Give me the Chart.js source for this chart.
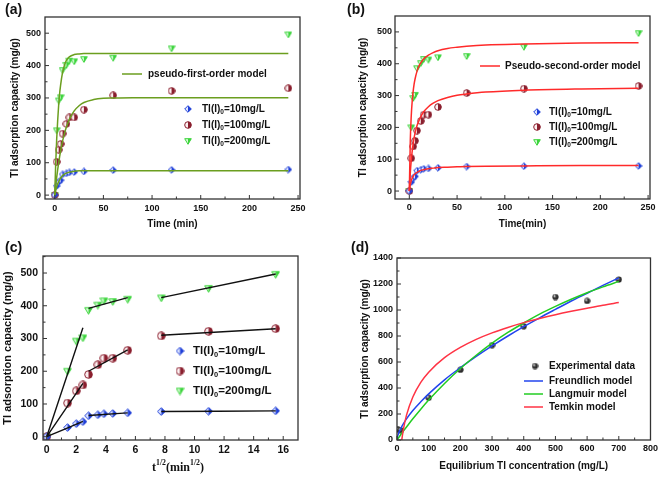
<!DOCTYPE html>
<html>
<head>
<meta charset="utf-8">
<script src="https://cdn.jsdelivr.net/npm/chart.js@4.4.0/dist/chart.umd.min.js"></script>
<style>
    body { margin: 0; background: #fff; width: 661px; height: 477px; position: relative; overflow: hidden; }
    canvas { position: absolute; }
</style>
</head>
<body>
<canvas id="chartA" width="330" height="238" style="left:0;top:0"></canvas>
<canvas id="chartB" width="331" height="238" style="left:330px;top:0"></canvas>
<canvas id="chartC" width="330" height="239" style="left:0;top:238px"></canvas>
<canvas id="chartD" width="331" height="239" style="left:330px;top:238px"></canvas>
<script>
// Kinetic data (sampling times and uptake for the three initial concentrations)
const timeMin = [0, 2, 4, 6, 8, 12, 15, 20, 30, 60, 120, 240];
const sqrtTime = [0, 1.41, 2, 2.45, 2.83, 3.46, 3.87, 4.47, 5.48, 7.75, 10.95, 15.49];
const q10 = [0, 28, 40, 46, 64, 67, 70, 71, 73, 77, 78, 79];
const q100 = [0, 103, 140, 158, 190, 220, 240, 240, 264, 308, 322, 330];
const q200 = [0, 200, 292, 302, 386, 402, 415, 413, 420, 424, 453, 496];

// Model curves (a) and (b)
const modelTime = [0, 1, 2, 3, 4, 5, 6, 8, 10, 12, 15, 20, 25, 30, 40, 50, 60, 80, 120, 180, 240];
const pfo10 = [0, 14, 25, 34, 41, 47, 52, 60, 65, 68, 71, 74, 75, 75, 75, 75, 75, 75, 75, 75, 75];
const pfo100 = [0, 29, 55, 78, 99, 118, 136, 166, 190, 210, 234, 260, 276, 286, 295, 299, 300, 301, 301, 301, 301];
const pfo200 = [0, 97, 172, 229, 276, 313, 339, 378, 401, 416, 427, 434, 436, 437, 437, 437, 437, 437, 437, 437, 437];
const pso10 = [0, 20, 32, 40, 46, 51, 54, 59, 62, 65, 67, 70, 72, 74, 75, 76, 77, 78, 79, 80, 80];
const pso100 = [0, 56, 96, 125, 148, 167, 182, 205, 221, 234, 249, 265, 276, 284, 294, 301, 305, 311, 317, 321, 323];
const pso200 = [0, 157, 235, 282, 313, 336, 352, 376, 392, 403, 415, 427, 435, 441, 448, 452, 455, 459, 462, 465, 466];

// Intraparticle diffusion fit segments, panel (c)
const segX = [[0, 2.45], [2.83, 5.48], [7.75, 15.49]];
const seg10Y = [[0, 47], [65, 73], [77, 79]];
const seg100Y = [[0, 163], [200, 265], [310, 330]];
const seg200Y = [[0, 333], [392, 425], [425, 497]];

// Isotherm, panel (d)
const ceExp = [3, 12, 100, 200, 300, 400, 500, 600, 700];
const qeExp = [80, 75, 325, 540, 730, 875, 1100, 1070, 1235];
const ceModel = [0, 2, 5, 10, 15, 20, 30, 50, 75, 100, 150, 200, 250, 300, 350, 400, 450, 500, 550, 600, 650, 700];
const freundlich = [0, 28, 51, 79, 103, 124, 163, 227, 294, 355, 463, 556, 643, 724, 800, 872, 940, 1005, 1069, 1129, 1189, 1247];
const langmuir = [0, 7, 17, 35, 52, 68, 100, 163, 237, 307, 435, 550, 652, 745, 827, 900, 968, 1028, 1083, 1133, 1178, 1220];
const ceTemkin = [15, 20, 30, 50, 75, 100, 150, 200, 250, 300, 350, 400, 450, 500, 550, 600, 650, 700];
const temkin = [0, 79, 191, 331, 443, 522, 633, 712, 774, 824, 866, 903, 935, 964, 990, 1014, 1037, 1057];

// Tick labels
const timeTicks = [0, 50, 100, 150, 200, 250];
const qTicks = [0, 100, 200, 300, 400, 500];
const sqrtTicks = [0, 2, 4, 6, 8, 10, 12, 14, 16];
const ceTicks = [0, 100, 200, 300, 400, 500, 600, 700, 800];
const qeTicks = [0, 200, 400, 600, 800, 1000, 1200, 1400];

const BLUE = '#1f3fd8', DARKRED = '#8a1f2e', GREEN = '#3cd43c';
const OLIVE = '#6b9e1f', RED = '#ff2a2a';
const SANS = 'Liberation Sans, Arial, sans-serif';

function pts(xs, ys) {
    return xs.map((x, i) => ({ x: x, y: ys[i] }));
}

// Half-filled markers like the original figure
function makeMarker(kind, size, color, light) {
    const c = document.createElement('canvas');
    c.width = size; c.height = size;
    const g = c.getContext('2d');
    const m = size / 2, r = size / 2 - 0.7;
    const shape = () => {
        g.beginPath();
        if (kind === 'diamond') {
            g.moveTo(m, m - r); g.lineTo(m + r, m); g.lineTo(m, m + r); g.lineTo(m - r, m); g.closePath();
        } else if (kind === 'circle') {
            g.arc(m, m, r, 0, Math.PI * 2);
        } else {
            g.moveTo(m - r, m - r * 0.7); g.lineTo(m + r, m - r * 0.7); g.lineTo(m, m + r); g.closePath();
        }
    };
    shape();
    g.fillStyle = light; g.fill();
    g.save();
    g.beginPath(); g.rect(m, 0, m, size); g.clip();
    shape(); g.fillStyle = color; g.fill();
    g.restore();
    shape(); g.strokeStyle = color; g.lineWidth = 1; g.stroke();
    return c;
}

function makeSphere(size) {
    const c = document.createElement('canvas');
    c.width = size; c.height = size;
    const g = c.getContext('2d');
    const m = size / 2;
    const grad = g.createRadialGradient(m - 1.2, m - 1.2, 0.3, m, m, m);
    grad.addColorStop(0, '#f0f0f0');
    grad.addColorStop(0.35, '#444');
    grad.addColorStop(1, '#111');
    g.beginPath(); g.arc(m, m, m - 0.4, 0, Math.PI * 2);
    g.fillStyle = grad; g.fill();
    return c;
}

const mk = {
    a10: makeMarker('diamond', 8, BLUE, '#dfe6ff'),
    a100: makeMarker('circle', 8, DARKRED, '#fbeff0'),
    a200: makeMarker('triangle', 8, GREEN, '#d8fbd8'),
    c10: makeMarker('diamond', 9, BLUE, '#dfe6ff'),
    c100: makeMarker('circle', 9, DARKRED, '#fbeff0'),
    c200: makeMarker('triangle', 9, GREEN, '#d8fbd8'),
    sphere: makeSphere(7)
};

// Draw text with subscripts / superscripts
function partsWidth(ctx, parts, size, family) {
    let w = 0;
    parts.forEach(p => {
        ctx.font = 'bold ' + (p.sub || p.sup ? size * 0.65 : size) + 'px ' + family;
        w += ctx.measureText(p.t).width;
    });
    return w;
}
function drawParts(ctx, parts, x, y, size, family) {
    ctx.textBaseline = 'middle';
    ctx.textAlign = 'left';
    ctx.fillStyle = '#111';
    parts.forEach(p => {
        const s = p.sub || p.sup ? size * 0.65 : size;
        ctx.font = 'bold ' + s + 'px ' + family;
        const dy = p.sub ? size * 0.35 : (p.sup ? -size * 0.38 : 0);
        ctx.fillText(p.t, x, y + dy);
        x += ctx.measureText(p.t).width;
    });
}

function tlParts(conc) {
    return [{ t: 'Tl(I)' }, { t: '0', sub: true }, { t: '=' + conc + 'mg/L' }];
}

// Frame, inward ticks, legend and panel label
const decorPlugin = {
    id: 'decor',
    afterDatasetsDraw(chart, args, opts) {
        const ctx = chart.ctx, a = chart.chartArea;
        ctx.save();
        ctx.strokeStyle = '#333';
        ctx.lineWidth = 1.3;
        ctx.strokeRect(a.left, a.top, a.right - a.left, a.bottom - a.top);
        ctx.lineWidth = 1;
        const xs = chart.scales.x, ys = chart.scales.y;
        const xv = xs.ticks.map(t => t.value), yv = ys.ticks.map(t => t.value);
        const minorOf = (v, s) => {
            const out = [];
            const step = v.length > 1 ? v[1] - v[0] : 0;
            v.forEach(val => {
                const mid = val + step / 2;
                if (mid > s.min && mid < s.max) out.push(mid);
            });
            return out;
        };
        ctx.beginPath();
        xv.forEach(v => { const p = xs.getPixelForValue(v); ctx.moveTo(p, a.bottom); ctx.lineTo(p, a.bottom - 4); });
        minorOf(xv, xs).forEach(v => { const p = xs.getPixelForValue(v); ctx.moveTo(p, a.bottom); ctx.lineTo(p, a.bottom - 2.5); });
        yv.forEach(v => { const p = ys.getPixelForValue(v); ctx.moveTo(a.left, p); ctx.lineTo(a.left + 4, p); });
        minorOf(yv, ys).forEach(v => { const p = ys.getPixelForValue(v); ctx.moveTo(a.left, p); ctx.lineTo(a.left + 2.5, p); });
        ctx.stroke();

        (opts.items || []).forEach(it => {
            if (it.line) {
                ctx.strokeStyle = it.line; ctx.lineWidth = 1.5;
                ctx.beginPath(); ctx.moveTo(it.x1, it.y); ctx.lineTo(it.x2, it.y); ctx.stroke();
            }
            if (it.img) ctx.drawImage(it.img, it.mx - it.img.width / 2, it.y - it.img.height / 2);
            drawParts(ctx, it.parts, it.tx, it.y, opts.fontSize || 10, SANS);
        });
        if (opts.panel) {
            ctx.font = 'bold 14px ' + SANS;
            ctx.fillStyle = '#111'; ctx.textBaseline = 'middle'; ctx.textAlign = 'left';
            ctx.fillText(opts.panel.text, opts.panel.x, opts.panel.y);
        }
        if (opts.xTitle) {
            const t = opts.xTitle;
            const w = partsWidth(ctx, t.parts, t.size, t.family);
            drawParts(ctx, t.parts, t.x - w / 2, t.y, t.size, t.family);
        }
        ctx.restore();
    }
};

function axis(min, max, ticks, fit, tickPad, fontSize, title, titlePad, isX) {
    return {
        type: 'linear',
        min: min,
        max: max,
        afterBuildTicks: s => { s.ticks = ticks.map(v => ({ value: v })); },
        afterFit: s => { if (isX) s.height = fit; else s.width = fit; },
        grid: { display: false, drawTicks: false },
        border: { display: false },
        ticks: {
            padding: tickPad,
            color: '#111',
            callback: v => String(v),
            font: { family: SANS, size: fontSize, weight: 'bold' }
        },
        title: {
            display: !!title,
            text: title || '',
            color: '#111',
            font: { family: SANS, size: 10, weight: 'bold' },
            padding: isX ? { top: 0, bottom: titlePad } : { top: titlePad, bottom: 0 }
        }
    };
}

function scatterSet(data, img) {
    return { type: 'scatter', data: data, pointStyle: img, pointRadius: 4, showLine: false };
}
function lineSet(data, color, width) {
    return {
        type: 'line', data: data, borderColor: color, borderWidth: width || 1.5,
        pointRadius: 0, fill: false, cubicInterpolationMode: 'monotone'
    };
}

function baseOptions(padding, scales, decor) {
    return {
        responsive: false,
        animation: false,
        events: [],
        layout: { padding: padding },
        scales: scales,
        plugins: { legend: { display: false }, tooltip: { enabled: false }, decor: decor }
    };
}

const yTitle = 'Tl adsorption capacity (mg/g)';

// Panel (a): pseudo-first-order
new Chart(document.getElementById('chartA'), {
    type: 'scatter',
    data: {
        datasets: [
            lineSet(pts(modelTime, pfo10), OLIVE),
            lineSet(pts(modelTime, pfo100), OLIVE),
            lineSet(pts(modelTime, pfo200), OLIVE),
            scatterSet(pts(timeMin, q10), mk.a10),
            scatterSet(pts(timeMin, q100), mk.a100),
            scatterSet(pts(timeMin, q200), mk.a200)
        ]
    },
    options: baseOptions({ top: 17, right: 30, left: 0, bottom: 0 }, {
        x: axis(-10, 252, timeTicks, 39, 4, 9, 'Time (min)', 8, true),
        y: axis(-12, 550, qTicks, 45, 4, 9, yTitle, 9, false)
    }, {
        panel: { text: '(a)', x: 5, y: 10 },
        items: [
            { line: OLIVE, x1: 122, x2: 142, y: 74, tx: 148, parts: [{ t: 'pseudo-first-order model' }] },
            { img: mk.a10, mx: 188, y: 109, tx: 202, parts: tlParts(10) },
            { img: mk.a100, mx: 188, y: 125, tx: 202, parts: tlParts(100) },
            { img: mk.a200, mx: 188, y: 141, tx: 202, parts: tlParts(200) }
        ]
    }),
    plugins: [decorPlugin]
});

// Panel (b): pseudo-second-order
new Chart(document.getElementById('chartB'), {
    type: 'scatter',
    data: {
        datasets: [
            lineSet(pts(modelTime, pso10), RED),
            lineSet(pts(modelTime, pso100), RED),
            lineSet(pts(modelTime, pso200), RED),
            scatterSet(pts(timeMin, q10), mk.a10),
            scatterSet(pts(timeMin, q100), mk.a100),
            scatterSet(pts(timeMin, q200), mk.a200)
        ]
    },
    options: baseOptions({ top: 16, right: 11, left: 0, bottom: 0 }, {
        x: axis(-15, 252, timeTicks, 39, 3, 9, 'Time(min)', 8, true),
        y: axis(-25, 550, qTicks, 65, 3, 9, yTitle, 27, false)
    }, {
        panel: { text: '(b)', x: 17, y: 10 },
        items: [
            { line: RED, x1: 150, x2: 170, y: 66, tx: 175, parts: [{ t: 'Pseudo-second-order model' }] },
            { img: mk.a10, mx: 207, y: 112, tx: 219, parts: tlParts(10) },
            { img: mk.a100, mx: 207, y: 127, tx: 219, parts: tlParts(100) },
            { img: mk.a200, mx: 207, y: 142, tx: 219, parts: tlParts(200) }
        ]
    }),
    plugins: [decorPlugin]
});

// Panel (c): intraparticle diffusion
const segSets = [];
[seg10Y, seg100Y, seg200Y].forEach(seg => {
    seg.forEach((ys, i) => segSets.push(lineSet(pts(segX[i], ys), '#111', 1.4)));
});
const yAxisC = axis(-10, 552, qTicks, 43, 5, 10.5, yTitle, 1, false);
yAxisC.title.font.size = 11;
new Chart(document.getElementById('chartC'), {
    type: 'scatter',
    data: {
        datasets: segSets.concat([
            scatterSet(pts(sqrtTime, q10), mk.c10),
            scatterSet(pts(sqrtTime, q100), mk.c100),
            scatterSet(pts(sqrtTime, q200), mk.c200)
        ])
    },
    options: baseOptions({ top: 18, right: 32, left: 0, bottom: 0 }, {
        x: axis(-0.25, 17, sqrtTicks, 37, 4, 10.5, '', 0, true),
        y: yAxisC
    }, {
        panel: { text: '(c)', x: 5, y: 10 },
        fontSize: 11.5,
        items: [
            { img: mk.c10, mx: 180, y: 113, tx: 193, parts: tlParts(10) },
            { img: mk.c100, mx: 180, y: 133, tx: 193, parts: tlParts(100) },
            { img: mk.c200, mx: 180, y: 153, tx: 193, parts: tlParts(200) }
        ],
        xTitle: {
            x: 178, y: 230, size: 12, family: 'Liberation Serif, Times New Roman, serif',
            parts: [{ t: 't' }, { t: '1/2', sup: true }, { t: '(min' }, { t: '1/2', sup: true }, { t: ')' }]
        }
    }),
    plugins: [decorPlugin]
});

// Panel (d): isotherm models
new Chart(document.getElementById('chartD'), {
    type: 'scatter',
    data: {
        datasets: [
            lineSet(pts(ceTemkin, temkin), '#ff3344'),
            lineSet(pts(ceModel, langmuir), '#22cc22'),
            lineSet(pts(ceModel, freundlich), '#2244ee'),
            scatterSet(pts(ceExp, qeExp), mk.sphere)
        ]
    },
    options: baseOptions({ top: 20, right: 10, left: 0, bottom: 0 }, {
        x: axis(0, 800, ceTicks, 37, 3, 9, 'Equilibrium Tl concentration (mg/L)', 5, true),
        y: axis(0, 1400, qeTicks, 67, 4, 9, 'Tl adsorption capacity (mg/g)', 29, false)
    }, {
        panel: { text: '(d)', x: 21, y: 10 },
        items: [
            { img: mk.sphere, mx: 205, y: 128, tx: 219, parts: [{ t: 'Experimental data' }] },
            { line: '#2244ee', x1: 194, x2: 213, y: 143, tx: 219, parts: [{ t: 'Freundlich model' }] },
            { line: '#22cc22', x1: 194, x2: 213, y: 156, tx: 219, parts: [{ t: 'Langmuir model' }] },
            { line: '#ff3344', x1: 194, x2: 213, y: 169, tx: 219, parts: [{ t: 'Temkin model' }] }
        ]
    }),
    plugins: [decorPlugin]
});
</script>
</body>
</html>
